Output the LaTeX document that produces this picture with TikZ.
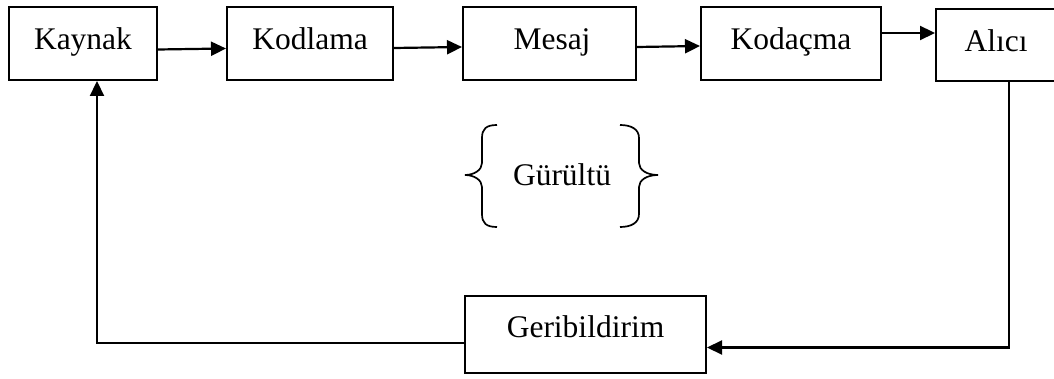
\documentclass[tikz,border=0pt]{standalone}
\usepackage{fontspec}
\setmainfont{Liberation Serif}
\usetikzlibrary{calc,arrows.meta}
\begin{document}
\begin{tikzpicture}[x=1pt,y=-1pt,
  box/.style={draw,line width=2pt,inner sep=0pt,minimum height=73pt},
  lbl/.style={inner sep=0pt,anchor=base,font=\fontsize{31.5}{36}\selectfont},
  conn/.style={line width=2.2pt,-{Triangle[length=15pt,width=14pt]}},
  brace/.style={line width=1.7pt}]
\useasboundingbox (0,0) rectangle (1054,379);
\node[box,minimum width=148pt] (kaynak) at (83,43.5) {};
\node[box,minimum width=166pt] (kodlama) at (310,43.5) {};
\node[box,minimum width=173pt] (mesaj) at (549.5,43.5) {};
\node[box,minimum width=180pt] (kodacma) at (791,43.5) {};
\node[box,minimum width=120pt,minimum height=72pt] (alici) at (996,45) {};
\node[box,minimum width=241pt,minimum height=77pt] (geri) at (585.5,334.5) {};
\node[lbl] (tkaynak) at (83,50) {Kaynak};
\node[lbl] (tkodlama) at (310,50) {Kodlama};
\node[lbl] (tmesaj) at (552,50) {Mesaj};
\node[lbl] (tkodacma) at (791,50) {Kodaçma};
\node[lbl] (talici) at (996,52) {Alıcı};
\node[lbl] (tgeri) at (585.5,337) {Geribildirim};
\node[lbl] (gurultu) at (562,186) {Gürültü};
\draw[conn] ($(kaynak.east)+(0,6)$) -- ($(kodlama.west)+(0,5)$);
\draw[conn] ($(kodlama.east)+(0,4.5)$) -- ($(mesaj.west)+(0,3.5)$);
\draw[conn] ($(mesaj.east)+(0,3.5)$) -- ($(kodacma.west)+(0,2.5)$);
\draw[conn] ($(kodacma.east)+(0,-10.5)$) -- ($(alici.west)+(0,-12)$);
\draw[conn] ($(alici.south)+(13,0)$) |- ($(geri.east)+(0,13)$);
\draw[conn] ($(geri.west)+(0,8.5)$) -| ($(kaynak.south)+(14,0)$);
\draw[brace] (497,125) .. controls (486,125) and (482,129) .. (482,138) -- (482,163)
  .. controls (482,170) and (474,175) .. (465,175)
  .. controls (474,175) and (482,180) .. (482,187) -- (482,214)
  .. controls (482,223) and (486,227) .. (497,227);
\draw[brace] (620,125) .. controls (631,125) and (639,129) .. (639,138) -- (639,163)
  .. controls (639,170) and (647,175) .. (658,175)
  .. controls (647,175) and (639,180) .. (639,187) -- (639,214)
  .. controls (639,223) and (631,227) .. (620,227);
\end{tikzpicture}
\end{document}
